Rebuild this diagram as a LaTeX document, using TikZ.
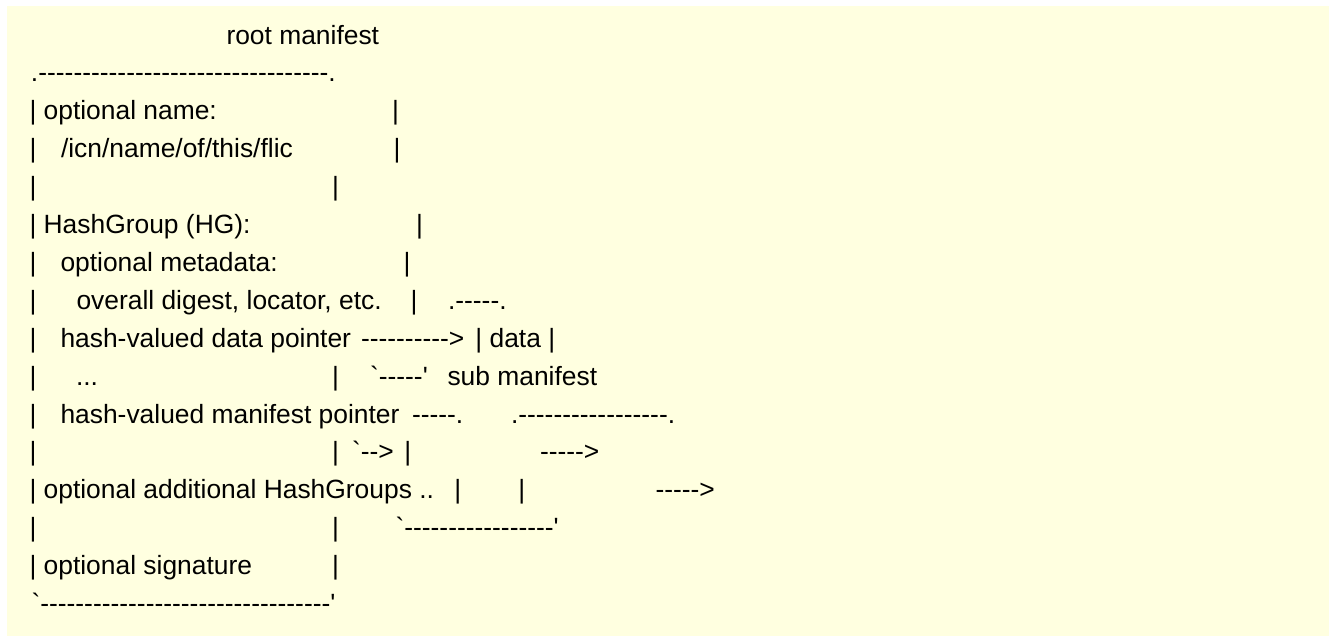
\documentclass[tikz,border=0pt]{standalone}
\usepackage{fontspec}
\setmainfont{Liberation Sans}[Ligatures={TeXOff,NoCommon}]
\definecolor{bgyellow}{RGB}{255,255,224}
\newcommand{\fsz}{\fontsize{19.8pt}{19.8pt}\selectfont}
\begin{document}
\begin{tikzpicture}[x=0.75pt,y=-0.75pt,
  t/.style={anchor=base west,inner sep=0pt,outer sep=0pt,font=\fsz,text=black}]
\useasboundingbox (0,0) rectangle (1329,636);
\fill[white] (0,0) rectangle (1329,636);
\fill[bgyellow] (7,6) rectangle (1329,636);
% line 1
\node[t] (l1) at (226.5,44) {root manifest};
% line 2
\node[t] (l2) at (31,81.9) {.---------------------------------.};
% line 3
\node[t] (l3a) at (29.5,119.8) {| optional name:};
\node[t] (l3b) at (392,119.8) {|};
% line 4
\node[t] (l4a) at (29.5,157.7) {|};
\node[t] (l4b) at (61,157.7) {/icn/name/of/this/flic};
\node[t] (l4c) at (393.7,157.7) {|};
% line 5
\node[t] (l5a) at (29.5,195.6) {|};
\node[t] (l5b) at (332,195.6) {|};
% line 6
\node[t] (l6a) at (29.5,233.5) {| HashGroup (HG):};
\node[t] (l6b) at (416,233.5) {|};
% line 7
\node[t] (l7a) at (29.5,271.4) {|};
\node[t] (l7b) at (60.5,271.4) {optional metadata:};
\node[t] (l7c) at (403.7,271.4) {|};
% line 8
\node[t] (l8a) at (29.5,309.3) {|};
\node[t] (l8b) at (76.5,309.3) {overall digest, locator, etc.};
\node[t] (l8c) at (410.5,309.3) {|};
\node[t] (l8d) at (448,309.3) {.-----.};
% line 9
\node[t] (l9a) at (29.5,347.2) {|};
\node[t] (l9b) at (60.5,347.2) {hash-valued data pointer};
\node[t] (l9c) at (361,347.2) {---------->};
\node[t] (l9d) at (475.4,347.2) {| data |};
% line 10
\node[t] (l10a) at (29.5,385.1) {|};
\node[t] (l10b) at (76,385.1) {...};
\node[t] (l10c) at (332,385.1) {|};
\node[t] (l10d) at (370,385.1) {`-----'};
\node[t] (l10e) at (447.5,385.1) {sub manifest};
% line 11
\node[t] (l11a) at (29.5,423) {|};
\node[t] (l11b) at (60.5,423) {hash-valued manifest pointer};
\node[t] (l11c) at (412,423) {-----.};
\node[t] (l11d) at (511,423) {.-----------------.};
% line 12
\node[t] (l12a) at (29.5,460.9) {|};
\node[t] (l12b) at (332,460.9) {|};
\node[t] (l12c) at (352,460.9) {`-->};
\node[t] (l12d) at (404.4,460.9) {|};
\node[t] (l12e) at (540,460.9) {----->};
% line 13
\node[t] (l13a) at (29.5,498.8) {| optional additional HashGroups ..};
\node[t] (l13b) at (454.4,498.8) {|};
\node[t] (l13c) at (518.4,498.8) {|};
\node[t] (l13d) at (655.5,498.8) {----->};
% line 14
\node[t] (l14a) at (29.5,536.7) {|};
\node[t] (l14b) at (332,536.7) {|};
\node[t] (l14c) at (395.5,536.7) {`-----------------'};
% line 15
\node[t] (l15a) at (29.5,574.6) {| optional signature};
\node[t] (l15b) at (332,574.6) {|};
% line 16
\node[t] (l16) at (31.5,612.5) {`---------------------------------'};
\end{tikzpicture}
\end{document}
